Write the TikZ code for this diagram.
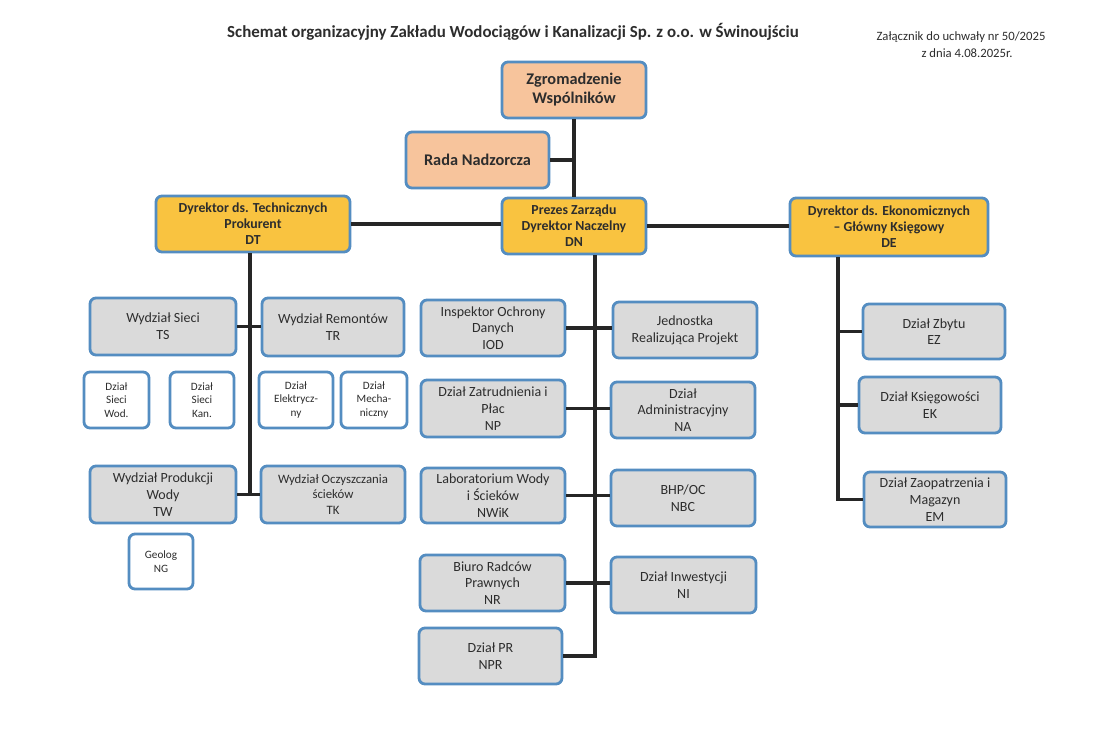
\documentclass[tikz,border=0pt]{standalone}
\usepackage{fontspec}
\setmainfont{Carlito}
\definecolor{bordblue}{RGB}{84,141,193}
\definecolor{orangefill}{RGB}{247,196,156}
\definecolor{goldfill}{RGB}{249,195,64}
\definecolor{grayfill}{RGB}{218,218,218}
\definecolor{txt}{RGB}{45,45,45}
\tikzset{
  box/.style={draw=bordblue, line width=2.8pt, rounded corners=6pt, align=center, text=txt, inner sep=1pt},
  topbox/.style={box, fill=orangefill, font=\bfseries\fontsize{16.3}{19}\selectfont},
  dirbox/.style={box, fill=goldfill, font=\bfseries\fontsize{13.8}{16}\selectfont},
  gbox/.style={box, fill=grayfill, font=\fontsize{14}{16.7}\selectfont},
  sbox/.style={box, fill=white, font=\fontsize{11.2}{13.5}\selectfont},
  conn/.style={draw=black!85, line width=3.2pt},
  sz/.style n args={2}{minimum width=#1, minimum height=#2}
}
\begin{document}
\begin{tikzpicture}[x=1pt,y=-1pt]
\fill[white] (0,0) rectangle (1102,729);
\useasboundingbox (0,0) rectangle (1102,729);

\node[font=\bfseries\fontsize{16.9}{20}\selectfont, text=txt] (title) at (513,32) {Schemat organizacyjny Zakładu Wodociągów i Kanalizacji Sp. z o.o. w Świnoujściu};
\node[font=\fontsize{12.7}{15}\selectfont, text=txt] (note1) at (961,37) {Załącznik do uchwały nr 50/2025};
\node[font=\fontsize{12.7}{15}\selectfont, text=txt] (note2) at (967,53) {z dnia 4.08.2025r.};

% top
\node[topbox, sz={144}{56}] (ZW) at (574,90) {Zgromadzenie\\Wspólników};
\node[topbox, sz={143}{56}] (RN) at (477.5,160) {Rada Nadzorcza};

% directors
\node[dirbox, sz={194}{56}] (DT) at (253,224) {Dyrektor ds. Technicznych\\Prokurent\\DT};
\node[dirbox, sz={144}{56}] (DN) at (574,226) {Prezes Zarządu\\Dyrektor Naczelny\\DN};
\node[dirbox, sz={198}{58}] (DE) at (889,227) {Dyrektor ds. Ekonomicznych\\– Główny Księgowy\\DE};

% technical
\node[gbox, sz={146}{57}] (TS) at (163,326.5) {Wydział Sieci\\TS};
\node[gbox, sz={142}{58}] (TR) at (333,327) {Wydział Remontów\\TR};
\node[sbox, sz={65}{56}] (SW) at (116.5,400) {Dział\\Sieci\\Wod.};
\node[sbox, sz={64}{56}] (SK) at (202,400) {Dział\\Sieci\\Kan.};
\node[sbox, sz={74}{56}] (EL) at (296,400) {Dział\\Elektrycz-\\ny};
\node[sbox, sz={66}{56}] (ME) at (374,400) {Dział\\Mecha-\\niczny};
\node[gbox, sz={146}{57}] (TW) at (163,494.5) {Wydział Produkcji\\Wody\\TW};
\node[gbox, sz={144}{57}, font=\fontsize{12.8}{15.5}\selectfont] (TK) at (333,494.5) {Wydział Oczyszczania\\ścieków\\TK};
\node[sbox, sz={64}{55}] (NG) at (161,561.5) {Geolog\\NG};

% central
\node[gbox, sz={144}{56}] (IOD) at (493,328) {Inspektor Ochrony\\Danych\\IOD};
\node[gbox, sz={144}{56}] (JRP) at (685,330) {Jednostka\\Realizująca Projekt};
\node[gbox, sz={144}{57}] (NP) at (493,408.5) {Dział Zatrudnienia i\\Płac\\NP};
\node[gbox, sz={144}{56}] (NA) at (683,410) {Dział\\Administracyjny\\NA};
\node[gbox, sz={144}{55}] (NWiK) at (493,495.5) {Laboratorium Wody\\i Ścieków\\NWiK};
\node[gbox, sz={144}{56}] (NBC) at (683,498) {BHP/OC\\NBC};
\node[gbox, sz={145}{56}] (NR) at (492.5,583) {Biuro Radców\\Prawnych\\NR};
\node[gbox, sz={145}{56}] (NI) at (683.5,585) {Dział Inwestycji\\NI};
\node[gbox, sz={143}{56}] (NPR) at (490.5,656) {Dział PR\\NPR};

% economic
\node[gbox, sz={142}{55}] (EZ) at (934,331.5) {Dział Zbytu\\EZ};
\node[gbox, sz={142}{56}] (EK) at (930,405) {Dział Księgowości\\EK};
\node[gbox, sz={142}{55}] (EM) at (935,499.5) {Dział Zaopatrzenia i\\Magazyn\\EM};

% trunk points
\coordinate (dtv) at ([xshift=-3pt]DT.south);
\coordinate (dnv) at ([xshift=21pt]DN.south);
\coordinate (dev) at ([xshift=-51pt]DE.south);

% connectors
\draw[conn] (ZW.south) -- (DN.north);
\draw[conn] (RN.east) -- (RN.east -| ZW.south);
\draw[conn] (DT.east) -- (DT.east -| DN.west);
\draw[conn] (DN.east) -- (DN.east -| DE.west);

\draw[conn] (dtv) -- (dtv |- TW.east);
\draw[conn] (TS.east) -- (TS.east -| TR.west);
\draw[conn] (TW.east) -- (TW.east -| TK.west);

\draw[conn] (dnv) -- (dnv |- NPR.east) -- (NPR.east);
\draw[conn] (IOD.east) -- (IOD.east -| JRP.west);
\draw[conn] (NP.east) -- (NP.east -| NA.west);
\draw[conn] (NWiK.east) -- (NWiK.east -| NBC.west);
\draw[conn] (NR.east) -- (NR.east -| NI.west);

\draw[conn] (dev) -- (dev |- EM.west) -- (EM.west);
\draw[conn] (EZ.west) -- (EZ.west -| dev);
\draw[conn] (EK.west) -- (EK.west -| dev);
\end{tikzpicture}
\end{document}
